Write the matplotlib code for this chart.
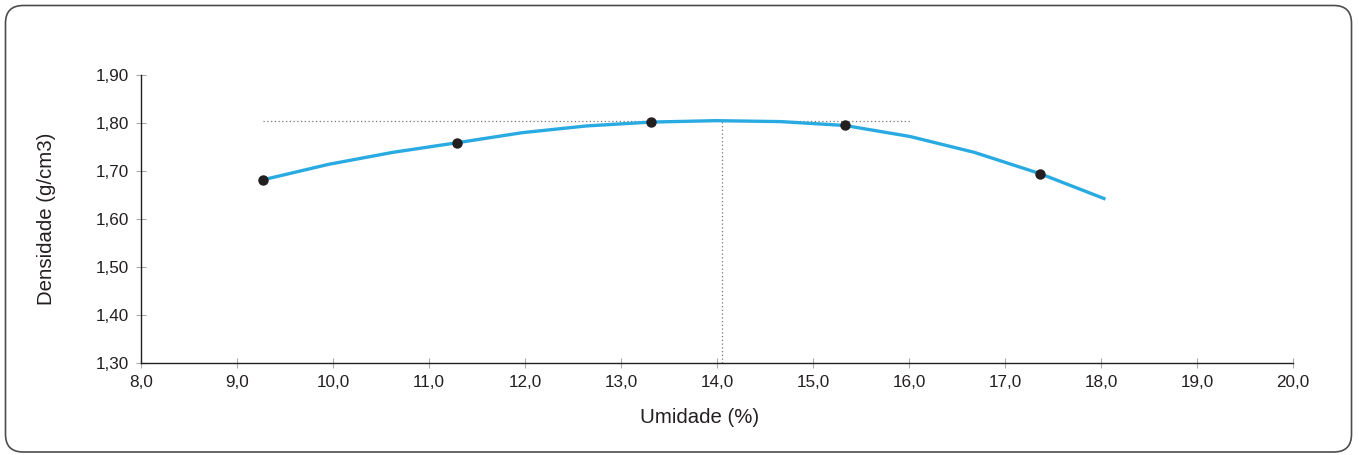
import matplotlib
matplotlib.use("Agg")
import matplotlib.pyplot as plt
from matplotlib.patches import FancyBboxPatch
from matplotlib.ticker import FuncFormatter, MultipleLocator

plt.rcParams['font.family'] = ['Liberation Sans', 'DejaVu Sans']

# Fitted compaction curve
curve_x = [9.27, 9.95, 10.62, 11.29, 11.97, 12.64, 13.31, 13.99, 14.66, 15.33, 16.01, 16.68, 17.36, 18.03]
curve_y = [1.682, 1.714, 1.739, 1.759, 1.780, 1.794, 1.802, 1.805, 1.803, 1.795, 1.772, 1.739, 1.695, 1.643]

# Measured points
point_x = [9.27, 11.29, 13.31, 15.33, 17.36]
point_y = [1.682, 1.759, 1.802, 1.795, 1.695]

# Optimum
opt_x = 14.05
opt_y = 1.805
hline_x = [9.27, 16.01]

x_label = "Umidade (%)"
y_label = "Densidade (g/cm3)"

fig = plt.figure(figsize=(13.59, 4.55), dpi=100)
W, H = 1359, 455

# rounded border
border = FancyBboxPatch((5.5 / W, 3.0 / H), (1346 / W), (446.5 / H),
                        boxstyle="round,pad=0,rounding_size=0.013",
                        transform=fig.transFigure, fill=False,
                        edgecolor="#4d4d4d", linewidth=1.2,
                        mutation_aspect=W / H)
fig.patches.append(border)

ax = fig.add_axes([141.3 / W, 1 - 363.3 / H, (1293 - 141.3) / W, (363.3 - 75) / H])

ax.plot(hline_x, [opt_y, opt_y], color="#777777", linestyle=(0, (1, 2)), linewidth=0.9, zorder=1)
ax.plot([opt_x, opt_x], [1.30, opt_y], color="#777777", linestyle=(0, (1, 2)), linewidth=0.9, zorder=1)

ax.plot(curve_x, curve_y, color="#29abe2", linewidth=2.4, zorder=2, solid_joinstyle="miter")
ax.plot(point_x, point_y, linestyle="none", marker="o", markersize=6.5,
        color="#231f20", zorder=3)

ax.set_xlim(8.0, 20.0)
ax.set_ylim(1.30, 1.90)
ax.xaxis.set_major_locator(MultipleLocator(1.0))
ax.yaxis.set_major_locator(MultipleLocator(0.1))
ax.xaxis.set_major_formatter(FuncFormatter(lambda v, p: f"{v:.1f}".replace(".", ",")))
ax.yaxis.set_major_formatter(FuncFormatter(lambda v, p: f"{v:.2f}".replace(".", ",")))

for s in ["top", "right"]:
    ax.spines[s].set_visible(False)
for s in ["left", "bottom"]:
    ax.spines[s].set_linewidth(1.0)
    ax.spines[s].set_color("#231f20")

ax.tick_params(axis="both", direction="inout", length=7, width=0.8, color="#aaaaaa",
               labelsize=12.3, labelcolor="#231f20", pad=5)

ax.set_xlabel(x_label, fontsize=14.7, color="#231f20", labelpad=14)
ax.xaxis.set_label_coords(0.485, -0.155)
ax.set_ylabel(y_label, fontsize=14.7, color="#231f20", labelpad=29)
ax.patch.set_alpha(0)

fig.savefig("out.png", dpi=100)
